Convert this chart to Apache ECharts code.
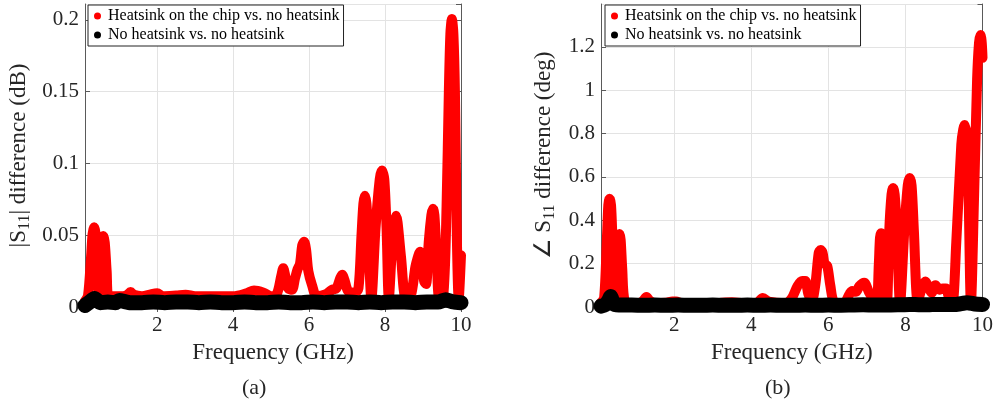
<!DOCTYPE html>
<html>
<head>
<meta charset="utf-8">
<script src="https://cdn.jsdelivr.net/npm/echarts@6/dist/echarts.min.js"></script>
<style>html,body{margin:0;padding:0;background:#fff}#c{width:996px;height:414px}</style>
</head>
<body>
<div id="c"></div>
<script>
// ---------- data ----------
const seriesNames = ['Heatsink on the chip vs. no heatsink', 'No heatsink vs. no heatsink'];
const xTicks = [2, 4, 6, 8, 10];

// Panel (a): |S11| difference (dB)
const freqRedA = [0.1,0.18,0.26,0.3,0.34,0.38,0.43,0.47,0.5,0.54,0.58,0.62,0.67,0.72,0.9,1.1,1.22,1.3,1.38,1.6,1.85,2.0,2.15,2.5,2.75,3.0,3.5,4.0,4.35,4.55,4.8,5.0,5.15,5.27,5.32,5.37,5.45,5.55,5.63,5.7,5.76,5.82,5.87,5.92,5.98,6.08,6.2,6.45,6.6,6.72,6.82,6.87,6.93,7.03,7.2,7.3,7.38,7.43,7.47,7.51,7.56,7.64,7.75,7.86,7.92,7.98,8.04,8.1,8.18,8.25,8.29,8.33,8.42,8.55,8.68,8.8,8.88,8.92,8.96,9.03,9.08,9.15,9.22,9.26,9.3,9.36,9.43,9.54,9.62,9.68,9.72,9.76,9.8,9.84,9.89,9.94,10.0];
const magRedA  = [0.004,0.008,0.035,0.051,0.0555,0.051,0.03,0.01,0.03,0.045,0.0495,0.045,0.025,0.008,0.0075,0.0075,0.0085,0.0105,0.0085,0.0075,0.009,0.0095,0.0075,0.008,0.0085,0.0075,0.0075,0.0075,0.0095,0.0115,0.010,0.0075,0.009,0.022,0.027,0.022,0.013,0.012,0.020,0.0265,0.030,0.043,0.0455,0.040,0.025,0.015,0.0075,0.009,0.012,0.013,0.020,0.0225,0.019,0.011,0.010,0.013,0.050,0.072,0.0775,0.072,0.050,0.006,0.055,0.089,0.095,0.089,0.055,0.006,0.040,0.059,0.0635,0.059,0.035,0.006,0.008,0.028,0.036,0.0385,0.036,0.018,0.016,0.045,0.064,0.0685,0.064,0.035,0.006,0.010,0.070,0.150,0.190,0.2005,0.190,0.150,0.050,0.006,0.036];
const freqBlackA = [0.1,0.2,0.35,0.5,0.7,0.9,1.0,1.3,1.6,1.9,2.2,2.5,2.8,3.1,3.4,3.7,4.0,4.3,4.6,4.9,5.2,5.5,5.8,6.1,6.4,6.7,7.0,7.3,7.6,7.9,8.2,8.5,8.8,9.1,9.4,9.6,9.8,10.0];
const magBlackA  = [0.001,0.003,0.006,0.003,0.0035,0.003,0.0045,0.003,0.003,0.0035,0.003,0.0035,0.0035,0.003,0.0035,0.003,0.003,0.0035,0.003,0.003,0.0035,0.003,0.003,0.0035,0.003,0.0035,0.0035,0.003,0.0035,0.003,0.0035,0.0035,0.003,0.0035,0.0035,0.005,0.0035,0.003];

// Panel (b): angle S11 difference (deg)
const freqRedB = [0.1,0.18,0.25,0.29,0.32,0.36,0.4,0.46,0.52,0.55,0.58,0.61,0.65,0.72,0.9,1.1,1.2,1.28,1.36,1.5,1.8,1.95,2.05,2.2,2.6,3.0,3.5,3.8,4.15,4.3,4.45,4.9,5.05,5.2,5.32,5.4,5.48,5.57,5.66,5.75,5.8,5.85,5.9,5.97,6.05,6.15,6.4,6.55,6.62,6.72,6.8,6.93,7.05,7.15,7.25,7.31,7.34,7.37,7.4,7.45,7.52,7.58,7.64,7.68,7.72,7.78,7.86,7.97,8.06,8.11,8.16,8.22,8.32,8.43,8.52,8.6,8.68,8.78,8.88,8.97,9.05,9.15,9.22,9.32,9.45,9.5,9.54,9.58,9.63,9.7,9.78,9.86,9.91,9.95,9.98,10.0];
const angRedB  = [0.02,0.04,0.3,0.47,0.5,0.47,0.3,0.04,0.2,0.31,0.337,0.31,0.18,0.025,0.018,0.018,0.03,0.046,0.03,0.018,0.02,0.025,0.025,0.018,0.018,0.018,0.022,0.018,0.02,0.042,0.025,0.018,0.04,0.097,0.12,0.12,0.06,0.03,0.1,0.25,0.263,0.25,0.2,0.19,0.1,0.025,0.018,0.06,0.074,0.07,0.095,0.112,0.07,0.04,0.03,0.2,0.32,0.34,0.32,0.2,0.02,0.35,0.52,0.549,0.52,0.35,0.02,0.35,0.56,0.595,0.56,0.35,0.025,0.09,0.118,0.09,0.065,0.1,0.08,0.085,0.085,0.03,0.02,0.3,0.75,0.82,0.84,0.8,0.6,0.02,0.5,1.05,1.22,1.255,1.22,1.15];
const freqBlackB = [0.1,0.2,0.3,0.35,0.42,0.5,0.7,0.9,1.2,1.5,1.8,2.1,2.4,2.7,3.0,3.3,3.6,3.9,4.2,4.5,4.8,5.1,5.4,5.7,6.0,6.3,6.6,6.9,7.2,7.5,7.8,8.1,8.4,8.7,9.0,9.3,9.6,9.8,10.0];
const angBlackB  = [0.004,0.009,0.03,0.048,0.015,0.01,0.009,0.009,0.008,0.009,0.008,0.009,0.008,0.008,0.009,0.008,0.008,0.009,0.008,0.009,0.008,0.008,0.009,0.008,0.009,0.008,0.009,0.01,0.009,0.009,0.01,0.012,0.01,0.011,0.012,0.012,0.02,0.014,0.012];

const yTitleA = '|S{sub|11}| difference (dB)';
const yTitleB = '\u2220 S{sub|11} difference (deg)';
const xTitle = 'Frequency (GHz)';

// ---------- chart ----------
const FONT = 'Liberation Serif';
const zip = (xs, ys) => xs.map((x, i) => [x, ys[i]]);
const gridCol = '#e3e3e3', axisCol = '#5a5a5a', txtCol = '#262626';

function bottomX(gi, name) {
  return {
    gridIndex: gi, type: 'value', min: 0.1, max: 10, position: 'bottom',
    name: name, nameLocation: 'middle', nameGap: 34,
    nameTextStyle: {fontFamily: FONT, fontSize: 23, color: txtCol},
    axisLine: {show: true, lineStyle: {color: axisCol, width: 1}},
    axisTick: {show: true, inside: true, length: 5, customValues: xTicks, lineStyle: {color: axisCol}},
    axisLabel: {customValues: xTicks, margin: 8, fontFamily: FONT, fontSize: 21, color: txtCol},
    splitLine: {show: true, lineStyle: {color: gridCol, width: 1}}
  };
}
function topX(gi) {
  return {
    gridIndex: gi, type: 'value', min: 0.1, max: 10, position: 'top',
    axisLine: {show: true, lineStyle: {color: axisCol, width: 1}},
    axisTick: {show: true, inside: true, length: 5, customValues: xTicks, lineStyle: {color: axisCol}},
    axisLabel: {show: false}, splitLine: {show: false}
  };
}
function leftY(gi, max, interval, name, gap) {
  return {
    gridIndex: gi, type: 'value', min: 0, max: max, interval: interval, position: 'left',
    name: name, nameLocation: 'middle', nameGap: gap,
    nameTextStyle: {fontFamily: FONT, fontSize: 23, color: txtCol,
      rich: {sub: {fontFamily: FONT, fontSize: 16, color: txtCol, padding: [12, 0, 0, 0]}}},
    axisLine: {show: true, lineStyle: {color: axisCol, width: 1}},
    axisTick: {show: true, inside: true, length: 5, lineStyle: {color: axisCol}},
    axisLabel: {margin: 6, fontFamily: FONT, fontSize: 21, color: txtCol, showMaxLabel: false},
    splitLine: {show: true, lineStyle: {color: gridCol, width: 1}}
  };
}
function rightY(gi, max, interval) {
  return {
    gridIndex: gi, type: 'value', min: 0, max: max, interval: interval, position: 'right',
    axisLine: {show: true, lineStyle: {color: axisCol, width: 1}},
    axisTick: {show: true, inside: true, length: 5, lineStyle: {color: axisCol}},
    axisLabel: {show: false}, splitLine: {show: false}
  };
}
function redSeries(xi, yi, data) {
  return {
    name: seriesNames[0], type: 'line', xAxisIndex: xi, yAxisIndex: yi, data: data,
    symbol: 'none', smooth: 0.3, clip: false, z: 2,
    itemStyle: {color: '#ff0000'},
    lineStyle: {color: '#ff0000', width: 10, cap: 'round', join: 'round'}
  };
}
function blackSeries(xi, yi, data) {
  return {
    name: seriesNames[1], type: 'line', xAxisIndex: xi, yAxisIndex: yi, data: data,
    symbol: 'none', smooth: 0.2, clip: false, z: 3,
    itemStyle: {color: '#000000'},
    lineStyle: {color: '#000000', width: 15, cap: 'round', join: 'round'}
  };
}
function legend(left) {
  return {
    data: seriesNames, orient: 'vertical', left: left, top: 5,
    icon: 'circle', itemWidth: 7, itemHeight: 7, itemGap: 3,
    padding: [3, 4, 3, 6], backgroundColor: '#fff',
    borderColor: '#222', borderWidth: 1, selectedMode: false,
    textStyle: {fontFamily: FONT, fontSize: 16, color: '#000', padding: [0, 0, 0, 2]}
  };
}

const chart = echarts.init(document.getElementById('c'), null, {renderer: 'canvas'});
chart.setOption({
  animation: false,
  backgroundColor: '#fff',
  grid: [
    {left: 85, right: 535, top: 4, bottom: 107, containLabel: false},
    {left: 601, right: 11, top: 4, bottom: 107, containLabel: false}
  ],
  xAxis: [bottomX(0, xTitle), topX(0), bottomX(1, xTitle), topX(1)],
  yAxis: [leftY(0, 0.211, 0.05, yTitleA, 52), rightY(0, 0.211, 0.05),
          leftY(1, 1.398, 0.2, yTitleB, 43), rightY(1, 1.398, 0.2)],
  legend: [legend(88), legend(605)],
  graphic: [
    {type: 'text', left: 242, top: 377, style: {text: '(a)', font: '22px "Liberation Serif"', fill: txtCol}},
    {type: 'text', left: 765, top: 377, style: {text: '(b)', font: '22px "Liberation Serif"', fill: txtCol}}
  ],
  series: [
    redSeries(0, 0, zip(freqRedA, magRedA)),
    blackSeries(0, 0, zip(freqBlackA, magBlackA)),
    redSeries(2, 2, zip(freqRedB, angRedB)),
    blackSeries(2, 2, zip(freqBlackB, angBlackB))
  ]
});
</script>
</body>
</html>
